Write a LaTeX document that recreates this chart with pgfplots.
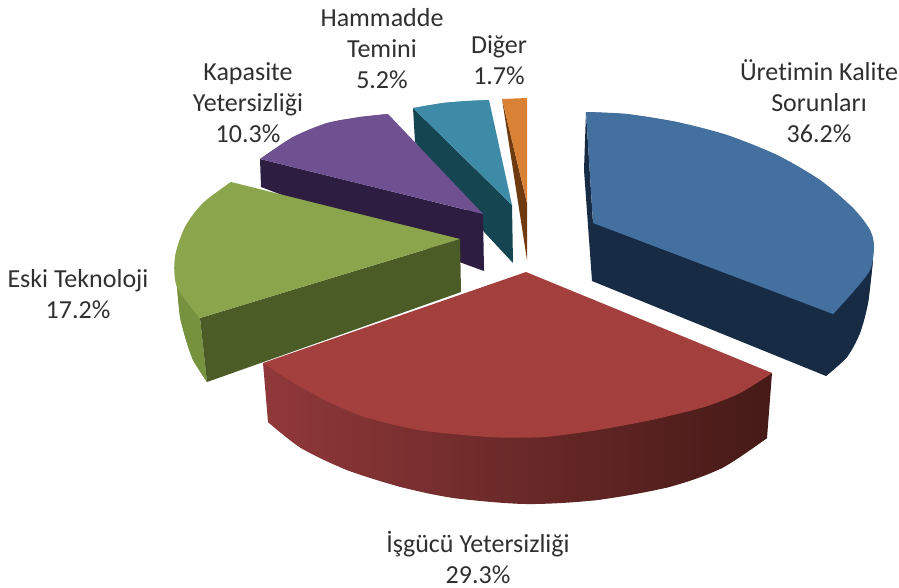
\documentclass[border=0pt]{standalone}
\usepackage{fontspec}
\setmainfont{Carlito}[Ligatures=CommonOff]
\usepackage{pgfplots}
\pgfplotsset{compat=1.18}

\definecolor{bluetop}{HTML}{44709F}
\definecolor{blueside}{HTML}{172B45}
\definecolor{redtop}{HTML}{A33F3D}
\definecolor{redl}{HTML}{90383A}
\definecolor{redm}{HTML}{6C2826}
\definecolor{redr}{HTML}{451A17}
\definecolor{greentop}{HTML}{8AA54B}
\definecolor{greenside}{HTML}{4B5C27}
\definecolor{greenrim}{HTML}{76923F}
\definecolor{purpletop}{HTML}{6F5191}
\definecolor{purpleside}{HTML}{2D1D40}
\definecolor{tealtop}{HTML}{3D8BA7}
\definecolor{tealside}{HTML}{164552}
\definecolor{orangetop}{HTML}{D98135}
\definecolor{orangeside}{HTML}{6F3A10}
\definecolor{labeltext}{HTML}{303030}
\tikzset{lbl/.style={font=\fontsize{26}{31}\selectfont, text=labeltext, align=center, inner sep=0pt}}

\begin{document}
\begin{tikzpicture}
\begin{axis}[
    name=pie,
    hide axis,
    scale only axis,
    width=899pt, height=587pt,
    xmin=0, xmax=899,
    ymin=0, ymax=587,
    y dir=reverse,
    clip=false,
    every axis plot/.append style={draw=none, forget plot},
]
% Diger
\addplot[fill=orangeside] coordinates {(502,99)(527,203)(527,260)};
\addplot[fill=orangetop] coordinates {(502,99)(527,98)(527,203)};
% Hammadde
\addplot[fill=tealside] coordinates {(413,108)(512,205)(513,263)(485,233)(415,142)};
\addplot[fill=tealtop] coordinates {(413,108)(443,103)(467,101)(489,100)(512,205)};
\addplot[fill=tealtop, smooth] coordinates {(413,108)(443,103)(467,101)(489,100)};
% Kapasite
\addplot[fill=purpleside] coordinates {(260,159)(483,214)(484,271)(462,263)(261,187)};
\addplot[fill=purpletop] coordinates {(260,159)(293,137)(327,123)(360,117)(388,114)(483,214)};
\addplot[fill=purpletop, smooth] coordinates {(260,159)(293,137)(327,123)(360,117)(388,114)};
% Eski Teknoloji
\addplot[fill=greenrim, smooth] coordinates {(177,287)(180,317)(186,340)(193,360)(207,382)};
\addplot[fill=greenrim] coordinates {(177,287)(180,317)(186,340)(193,360)(207,382)(200,318)};
\addplot[fill=greenside] coordinates {(200,318)(460,239)(461,292)(207,382)};
\addplot[fill=greentop] coordinates {(231,182)(203,203)(185,227)(175,257)(177,287)(200,318)(460,239)};
\addplot[fill=greentop, smooth] coordinates {(231,182)(203,203)(185,227)(175,257)(177,287)(200,318)};
% Uretimin Kalite Sorunlari
\addplot[fill=blueside] coordinates {(586,112)(584,170)(592,281)(826,376)(847,357)(860,333)(868,303)(873,260)(593,223)};
\addplot[fill=blueside, smooth] coordinates {(873,260)(868,303)(860,333)(847,357)(826,376)};
\addplot[fill=bluetop] coordinates {(586,112)(627,114)(677,122)(727,135)(777,155)(820,180)(853,208)(870,230)(874,247)(870,270)(853,292)(833,314)(593,223)};
\addplot[fill=bluetop, smooth] coordinates {(586,112)(627,114)(677,122)(727,135)(777,155)(820,180)(853,208)(870,230)(874,247)(870,270)(853,292)(833,314)};
% Isgucu Yetersizligi
\addplot[left color=redl, middle color=redm, right color=redr, smooth] coordinates {(268,422)(301,448)(347,470)(401,487)(454,498)(526,504)(597,500)(669,487)(722,468)(767,438)};
\addplot[left color=redl, middle color=redm, right color=redr] coordinates {(263,363)(772,373)(767,438)(722,468)(669,487)(597,500)(526,504)(454,498)(401,487)(347,470)(301,448)(268,422)};
\addplot[fill=redtop] coordinates {(526,272)(263,363)(294,383)(329,402)(365,417)(419,430)(490,437)(544,437)(597,430)(651,420)(704,407)(740,393)(772,373)};
\addplot[fill=redtop, smooth] coordinates {(263,363)(294,383)(329,402)(365,417)(419,430)(490,437)(544,437)(597,430)(651,420)(704,407)(740,393)(772,373)};

\node[lbl] at (axis cs:819,101) {Üretimin Kalite\\Sorunları\\36.2\%};
\node[lbl] at (axis cs:499,60) {Diğer\\1.7\%};
\node[lbl] at (axis cs:382,49) {Hammadde\\Temini\\5.2\%};
\node[lbl] at (axis cs:248,103) {Kapasite\\Yetersizliği\\10.3\%};
\node[lbl] at (axis cs:78,294) {Eski Teknoloji\\17.2\%};
\node[lbl] at (axis cs:478,557) {İşgücü Yetersizliği\\29.3\%};
\end{axis}
\pgfresetboundingbox
\path[use as bounding box] (pie.south west) rectangle (pie.north east);
\end{tikzpicture}
\end{document}
